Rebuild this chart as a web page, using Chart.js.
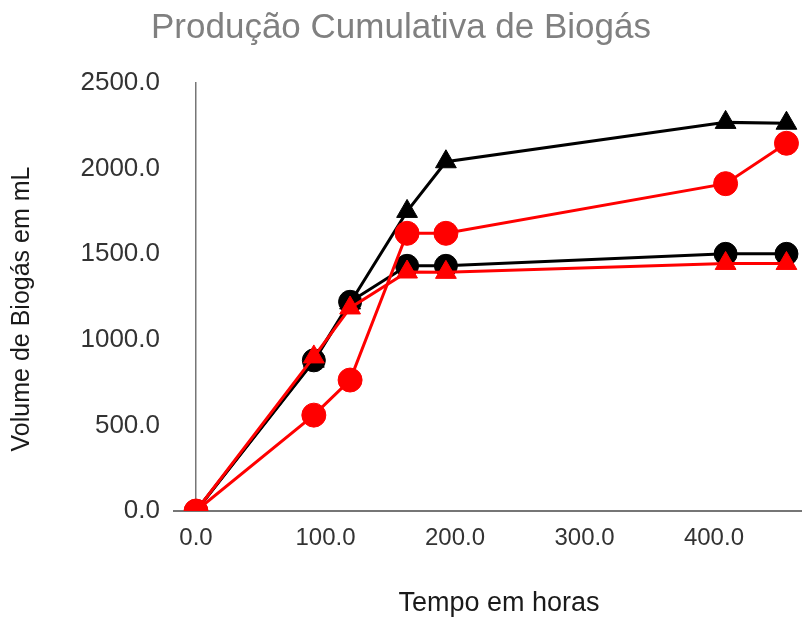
<!DOCTYPE html>
<html lang="pt">
<head>
<meta charset="utf-8">
<title>Produção Cumulativa de Biogás</title>
<script src="https://cdn.jsdelivr.net/npm/chart.js@4.4.1/dist/chart.umd.min.js"></script>
<style>
    html, body { margin: 0; padding: 0; background: #ffffff; overflow: hidden; }
    canvas { display: block; }
</style>
</head>
<body>
<canvas id="biogasChart" width="802" height="620"></canvas>
<script>
// Tempo em horas (eixo x) e volumes acumulados em mL
const hours = [0, 91, 119, 163, 193, 409, 456];
const blackTriangles = [0, 875, 1215, 1750, 2040, 2270, 2265];
const redCircles = [0, 560, 765, 1622, 1622, 1912, 2148];
const blackCircles = [0, 880, 1222, 1432, 1432, 1502, 1502];
const redTriangles = [0, 900, 1186, 1396, 1394, 1446, 1446];

const xTicks = [0, 100, 200, 300, 400];
const yTicks = [0, 500, 1000, 1500, 2000, 2500];

const FONT = "'Liberation Sans', Arial, sans-serif";
const Y_TITLE = "Volume de Biogás em mL";

function toPoints(values) {
    return hours.map((h, i) => ({ x: h, y: values[i] }));
}

function series(label, values, color, style, radius) {
    return {
        label: label,
        data: toPoints(values),
        borderColor: color,
        backgroundColor: color,
        borderWidth: 3,
        pointStyle: style,
        pointRadius: radius,
        pointBorderWidth: 1,
        pointBorderColor: color,
        pointBackgroundColor: color,
        showLine: true,
        tension: 0,
        clip: { left: false, top: false, right: false, bottom: 0 }
    };
}

// Excel-like stub of the horizontal axis and the vertical axis title
const excelBits = {
    id: "excelBits",
    beforeDatasetsDraw(chart) {
        const { ctx, chartArea } = chart;
        ctx.save();
        ctx.strokeStyle = "#767676";
        ctx.lineWidth = 2;
        ctx.beginPath();
        ctx.moveTo(chartArea.left - 23, chartArea.bottom);
        ctx.lineTo(chartArea.left, chartArea.bottom);
        ctx.stroke();

        ctx.translate(22, (chartArea.top + chartArea.bottom) / 2 + 12);
        ctx.rotate(-Math.PI / 2);
        ctx.fillStyle = "#1a1a1a";
        ctx.font = "25px " + FONT;
        ctx.textAlign = "center";
        ctx.textBaseline = "middle";
        ctx.fillText(Y_TITLE, 0, 0);
        ctx.restore();
    }
};

const ctx = document.getElementById("biogasChart").getContext("2d");
new Chart(ctx, {
    type: "scatter",
    data: {
        // first dataset is drawn on top
        datasets: [
            series("Série 4", redTriangles, "#ff0000", "triangle", 12),
            series("Série 2", redCircles, "#ff0000", "circle", 12),
            series("Série 3", blackCircles, "#000000", "circle", 11.5),
            series("Série 1", blackTriangles, "#000000", "triangle", 12)
        ]
    },
    options: {
        responsive: false,
        animation: false,
        layout: { autoPadding: false, padding: { left: 0, right: 0, top: 0, bottom: 0 } },
        plugins: {
            legend: { display: false },
            tooltip: { enabled: false },
            title: {
                display: true,
                text: "Produção Cumulativa de Biogás",
                color: "#808080",
                font: { family: FONT, size: 35, weight: "normal" },
                padding: { top: 7, bottom: 34 }
            }
        },
        scales: {
            x: {
                type: "linear",
                min: 0,
                max: 468,
                afterBuildTicks: (scale) => { scale.ticks = xTicks.map(v => ({ value: v })); },
                afterFit: (scale) => {
                    scale.height = 109;
                    scale.paddingLeft = 0;
                    scale.paddingRight = 0;
                },
                ticks: {
                    includeBounds: false,
                    color: "#333333",
                    font: { family: FONT, size: 24 },
                    padding: 13,
                    maxRotation: 0,
                    callback: (v) => Number(v).toFixed(1)
                },
                grid: { drawOnChartArea: false, drawTicks: false },
                border: { display: true, color: "#767676", width: 2 },
                title: {
                    display: true,
                    text: "Tempo em horas",
                    color: "#1a1a1a",
                    font: { family: FONT, size: 27 },
                    padding: { top: 0, bottom: 0 }
                }
            },
            y: {
                type: "linear",
                min: 0,
                max: 2500,
                afterBuildTicks: (scale) => { scale.ticks = yTicks.map(v => ({ value: v })); },
                afterFit: (scale) => { scale.width = 196; },
                ticks: {
                    color: "#333333",
                    font: { family: FONT, size: 26 },
                    padding: 36,
                    callback: (v) => Number(v).toFixed(1)
                },
                grid: { drawOnChartArea: false, drawTicks: false },
                border: { display: true, color: "#767676", width: 1.5 },
                title: { display: false }
            }
        }
    },
    plugins: [excelBits]
});
</script>
</body>
</html>
